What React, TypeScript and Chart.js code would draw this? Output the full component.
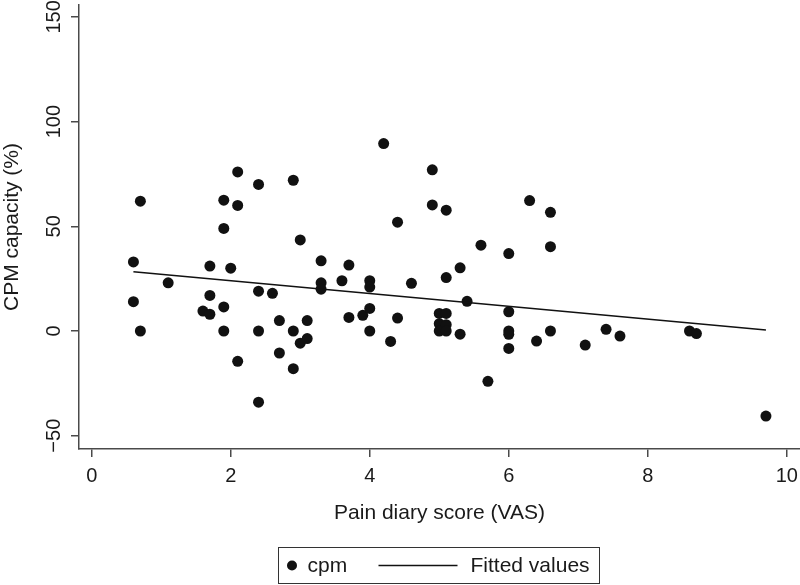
import React, { useEffect, useRef } from "react";
import { Chart, registerables } from "chart.js";

Chart.register(...registerables);

// ---- data ----
const painScore = [
  0.6, 0.6, 0.7, 0.7, 1.1, 1.6, 1.7, 1.7, 1.7, 1.9, 1.9, 1.9, 1.9, 2.0, 2.1, 2.1, 2.1,
  2.4, 2.4, 2.4, 2.4, 2.6, 2.7, 2.7, 2.9, 2.9, 2.9, 3.0, 3.0, 3.1, 3.1, 3.3, 3.3, 3.3,
  3.6, 3.7, 3.7, 3.9, 4.0, 4.0, 4.0, 4.0, 4.2, 4.3, 4.4, 4.4, 4.6, 4.9, 4.9, 5.0, 5.0,
  5.0, 5.1, 5.1, 5.1, 5.1, 5.1, 5.3, 5.3, 5.4, 5.6, 5.7, 6.0, 6.0, 6.0, 6.0, 6.0, 6.3,
  6.4, 6.6, 6.6, 6.6, 7.1, 7.4, 7.6, 8.6, 8.7, 9.7,
];
const cpmCapacity = [
  33, 14, 62, 0, 23, 9.5, 31, 17, 8, 62.5, 49, 11.5, 0, 30, 76, 60, -14.5,
  70, 19, 0, -34, 18, 5, -10.5, 72, 0, -18, 43.5, -5.8, 5, -3.6, 33.5, 23, 20,
  24, 31.5, 6.5, 7.5, 24, 21, 10.8, 0, 89.5, -5, 52, 6.2, 22.8, 77, 60.2, 8.4, 3.5,
  0, 57.7, 25.5, 8.4, 3, 0, 30.2, -1.5, 14.2, 41, -24, 37, 9.2, 0, -1.6, -8.3, 62.3,
  -4.8, 56.7, 40.3, 0, -6.7, 0.8, -2.4, 0, -1.2, -40.6,
];
const fitX = [0.6, 9.7];
const fitY = [28.3, 0.5];

const xTicks = [0, 2, 4, 6, 8, 10];
const xTickLabels = ["0", "2", "4", "6", "8", "10"];
const yTicks = [-50, 0, 50, 100, 150];
const yTickLabels = ["\u221250", "0", "50", "100", "150"];

const xTitle = "Pain diary score (VAS)";
const yTitle = "CPM capacity (%)";
const seriesLabels = ["cpm", "Fitted values"];

// ---- styles ----
const FONT = "'Liberation Sans', Arial, Helvetica, sans-serif";
const TEXT = "#1a1a1a";
const AXIS = "#4a4a4a";
const MARK = "#111111";

const yTickLabelPlugin = {
  id: "yTickLabels",
  afterDraw(chart: any) {
    const s = chart.scales.y;
    const ctx = chart.ctx;
    ctx.save();
    ctx.font = `20px ${FONT}`;
    ctx.fillStyle = TEXT;
    ctx.textAlign = "center";
    ctx.textBaseline = "middle";
    yTicks.forEach((v, i) => {
      const py = s.getPixelForValue(v);
      ctx.save();
      ctx.translate(s.right - 25, py);
      ctx.rotate(-Math.PI / 2);
      ctx.fillText(yTickLabels[i], 0, 0);
      ctx.restore();
    });
    ctx.restore();
  },
};

const boxLegendPlugin = {
  id: "boxLegend",
  afterDraw(chart: any) {
    const ctx = chart.ctx;
    const ds = chart.data.datasets;
    const bx = 278.5, by = 547.5, bw = 321, bh = 36;
    const cy = by + bh / 2;
    ctx.save();
    ctx.strokeStyle = "#333";
    ctx.lineWidth = 1;
    ctx.strokeRect(bx, by, bw, bh);
    ctx.fillStyle = MARK;
    ctx.beginPath();
    ctx.arc(bx + 13.5, cy, 5, 0, Math.PI * 2);
    ctx.fill();
    ctx.font = `21px ${FONT}`;
    ctx.fillStyle = TEXT;
    ctx.textAlign = "left";
    ctx.textBaseline = "middle";
    ctx.fillText(ds[0].label, bx + 29, cy + 1);
    ctx.strokeStyle = MARK;
    ctx.lineWidth = 1.6;
    ctx.beginPath();
    ctx.moveTo(bx + 100, cy);
    ctx.lineTo(bx + 179, cy);
    ctx.stroke();
    ctx.fillText(ds[1].label, bx + 192, cy + 1);
    ctx.restore();
  },
};

export default function App() {
  const ref = useRef<HTMLCanvasElement | null>(null);

  useEffect(() => {
    if (!ref.current) return;
    const chart = new Chart(ref.current, {
      type: "scatter",
      data: {
        datasets: [
          {
            label: seriesLabels[0],
            data: painScore.map((x, i) => ({ x, y: cpmCapacity[i] })),
            backgroundColor: MARK,
            borderColor: MARK,
            borderWidth: 0,
            pointRadius: 5.5,
            pointHoverRadius: 5.5,
            order: 2,
          },
          {
            type: "line",
            label: seriesLabels[1],
            data: fitX.map((x, i) => ({ x, y: fitY[i] })),
            borderColor: MARK,
            borderWidth: 1.6,
            pointRadius: 0,
            fill: false,
            tension: 0,
            order: 1,
          } as any,
        ],
      },
      options: {
        responsive: false,
        animation: false,
        events: [],
        layout: { autoPadding: false, padding: { top: 5, left: 0, right: 0, bottom: 0 } },
        plugins: {
          legend: { display: false },
          tooltip: { enabled: false },
        },
        scales: {
          x: {
            type: "linear",
            min: -0.183,
            max: 10.19,
            afterBuildTicks: (s: any) => {
              s.ticks = xTicks.map((v) => ({ value: v }));
            },
            afterFit: (s: any) => {
              s.height = 136;
              s.paddingLeft = 0;
              s.paddingRight = 0;
            },
            ticks: {
              autoSkip: false,
              maxRotation: 0,
              minRotation: 0,
              padding: 7,
              color: TEXT,
              font: { family: FONT, size: 20 },
              callback: (v: any) => {
                const i = xTicks.indexOf(Number(v));
                return i >= 0 ? xTickLabels[i] : "";
              },
            },
            grid: {
              display: true,
              drawOnChartArea: false,
              drawTicks: true,
              tickLength: 8,
              color: AXIS,
              lineWidth: 1.5,
            },
            border: { display: true, color: AXIS, width: 1.5 },
            title: {
              display: true,
              text: xTitle,
              color: TEXT,
              font: { family: FONT, size: 21 },
              padding: { top: 0, bottom: 59 },
            },
          },
          y: {
            type: "linear",
            min: -56.35,
            max: 155.7,
            afterBuildTicks: (s: any) => {
              s.ticks = yTicks.map((v) => ({ value: v }));
            },
            afterFit: (s: any) => {
              s.width = 79;
              s.paddingTop = 0;
              s.paddingBottom = 0;
            },
            ticks: { display: false },
            grid: {
              display: true,
              drawOnChartArea: false,
              drawTicks: true,
              tickLength: 8,
              color: AXIS,
              lineWidth: 1.5,
            },
            border: { display: true, color: AXIS, width: 1.5 },
            title: {
              display: true,
              text: yTitle,
              color: TEXT,
              font: { family: FONT, size: 21 },
              padding: { top: 0, bottom: 0 },
            },
          },
        },
      },
      plugins: [yTickLabelPlugin, boxLegendPlugin],
    });
    return () => chart.destroy();
  }, []);

  return (
    <div style={{ position: "absolute", left: 0, top: 0, width: 800, height: 585, background: "#fff" }}>
      <canvas ref={ref} width={800} height={585} style={{ width: 800, height: 585, display: "block" }} />
    </div>
  );
}
